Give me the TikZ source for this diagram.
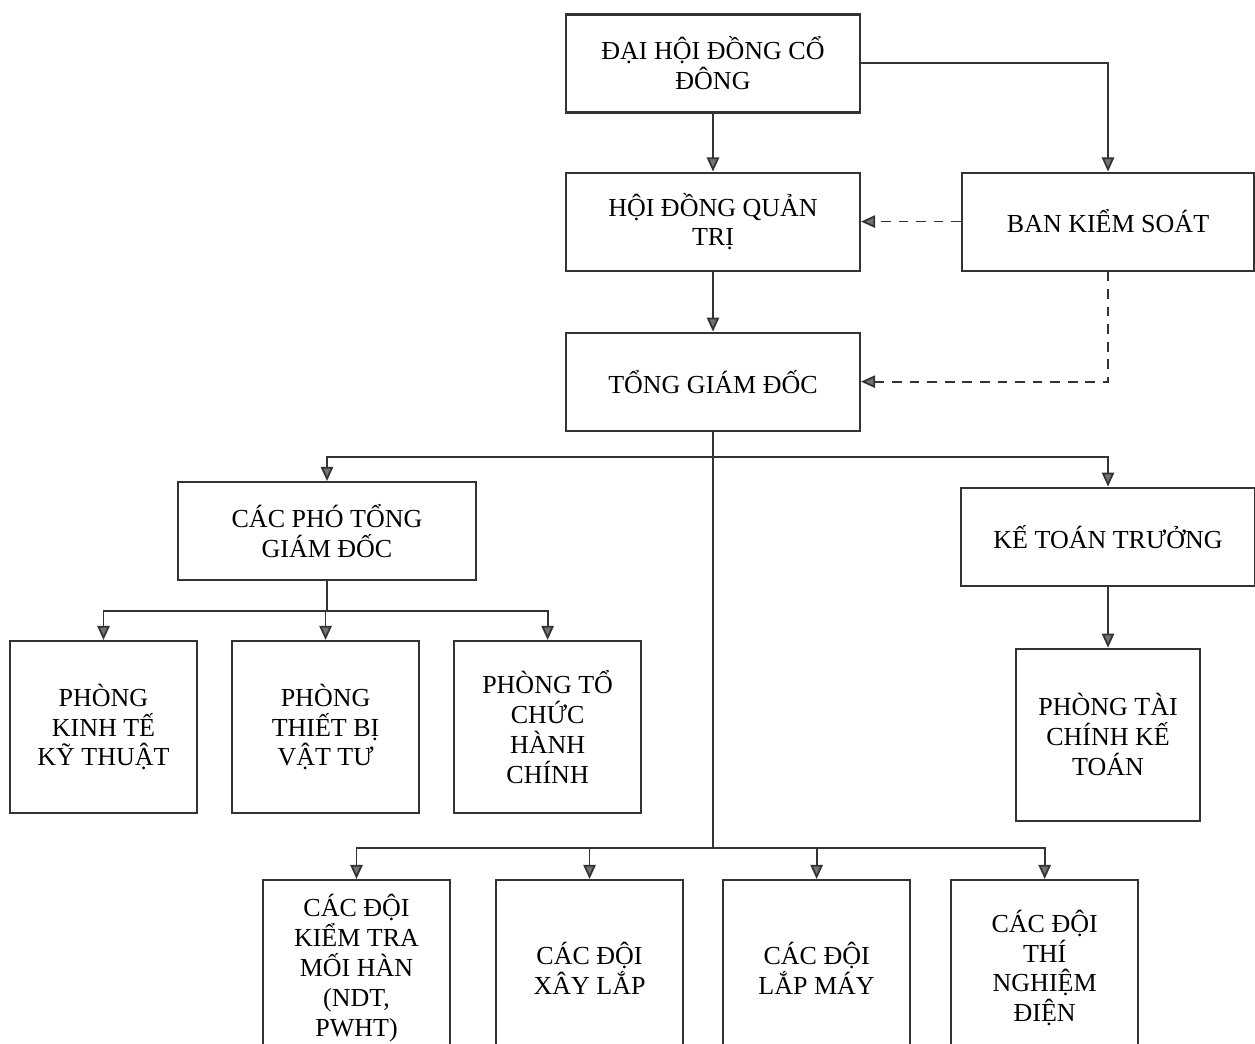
\documentclass[tikz,border=0pt]{standalone}
\usepackage{fontspec}
\setmainfont{Liberation Serif}
\usetikzlibrary{positioning,arrows.meta}

\begin{document}
\begin{tikzpicture}[x=0.02cm, y=-0.02cm, >={Triangle[length=8pt,width=7pt,fill=black!55]},
	font=\fontsize{14.8}{17}\selectfont]
    \tikzstyle{format} = [draw=black!80, line width=1.2pt, rectangle, align=center,
	inner sep=2pt]
    \tikzstyle{wide} = [format, minimum width=5.88cm, minimum height=1.96cm]
    \tikzstyle{tall} = [format, minimum width=3.74cm, minimum height=3.44cm]
    \tikzstyle{team} = [format, minimum width=3.74cm, minimum height=3.52cm]
    \tikzstyle{link} = [draw=black!80, line width=1pt]

	\useasboundingbox (0,0) rectangle (1255,1044);
	\clip (0,0) rectangle (1255,1044);

	\begin{scope}
		\path
			node[wide] (dhdcd) at (713,63.5) {ĐẠI HỘI ĐỒNG CỔ\\ĐÔNG}
			node[wide, below=1.16cm of dhdcd] (hdqt) {HỘI ĐỒNG QUẢN\\TRỊ}
			node[wide, below=1.2cm of hdqt] (tgd) {TỔNG GIÁM ĐỐC}
			node[wide, minimum width=5.84cm, right=2cm of hdqt] (bks) {BAN KIỂM SOÁT}

			node[wide, minimum width=5.96cm] (cptgd) at (327,531) {CÁC PHÓ TỔNG\\GIÁM ĐỐC}
			node[wide, minimum width=5.9cm, below=4.3cm of bks] (ktt) {KẾ TOÁN TRƯỞNG}

			node[tall] (pkt) at (103.5,727) {PHÒNG\\KINH TẾ\\KỸ THUẬT}
			node[tall, right=0.66cm of pkt] (ptb) {PHÒNG\\THIẾT BỊ\\VẬT TƯ}
			node[tall, right=0.66cm of ptb] (ptc) {PHÒNG TỔ\\CHỨC\\HÀNH\\CHÍNH}
			node[tall, minimum width=3.68cm, below=1.22cm of ktt] (ptckt) {PHÒNG TÀI\\CHÍNH KẾ\\TOÁN}

			node[team] (dnd) at (356.5,968) {CÁC ĐỘI\\KIỂM TRA\\MỐI HÀN\\(NDT,\\PWHT)}
			node[team, right=0.88cm of dnd] (dxl) {CÁC ĐỘI\\XÂY LẮP}
			node[team, right=0.76cm of dxl] (dlm) {CÁC ĐỘI\\LẮP MÁY}
			node[team, right=0.78cm of dlm] (dtn) {CÁC ĐỘI\\THÍ\\NGHIỆM\\ĐIỆN}
		;

		\coordinate (topbus) at (713,457);
		\coordinate (lowbus) at (713,848);
		\coordinate (midbus) at (327,611);

		\draw[link, ->] (dhdcd) -- (hdqt);
		\draw[link, ->] (hdqt) -- (tgd);
		\draw[link, ->] (dhdcd.east |- 0,63) -| (bks);
		\draw[link, ->, dash pattern=on 5.5pt off 4.5pt] (bks.west) -- (bks.west -| hdqt.east);
		\draw[link, ->, dash pattern=on 5.5pt off 4.5pt] (bks) |- (tgd);

		\draw[link] (tgd) -- (lowbus);
		\draw[link, ->] (topbus) -| (cptgd);
		\draw[link, ->] (topbus) -| (ktt);
		\draw[link, ->] (ktt) -- (ptckt);

		\draw[link] (cptgd) -- (midbus);
		\draw[link, ->] (midbus) -| (pkt);
		\draw[link, ->] (midbus) -| (ptb);
		\draw[link, ->] (midbus) -| (ptc);

		\draw[link, ->] (lowbus) -| (dnd);
		\draw[link, ->] (lowbus) -| (dxl);
		\draw[link, ->] (lowbus) -| (dlm);
		\draw[link, ->] (lowbus) -| (dtn);
	\end{scope}
\end{tikzpicture}
\end{document}
